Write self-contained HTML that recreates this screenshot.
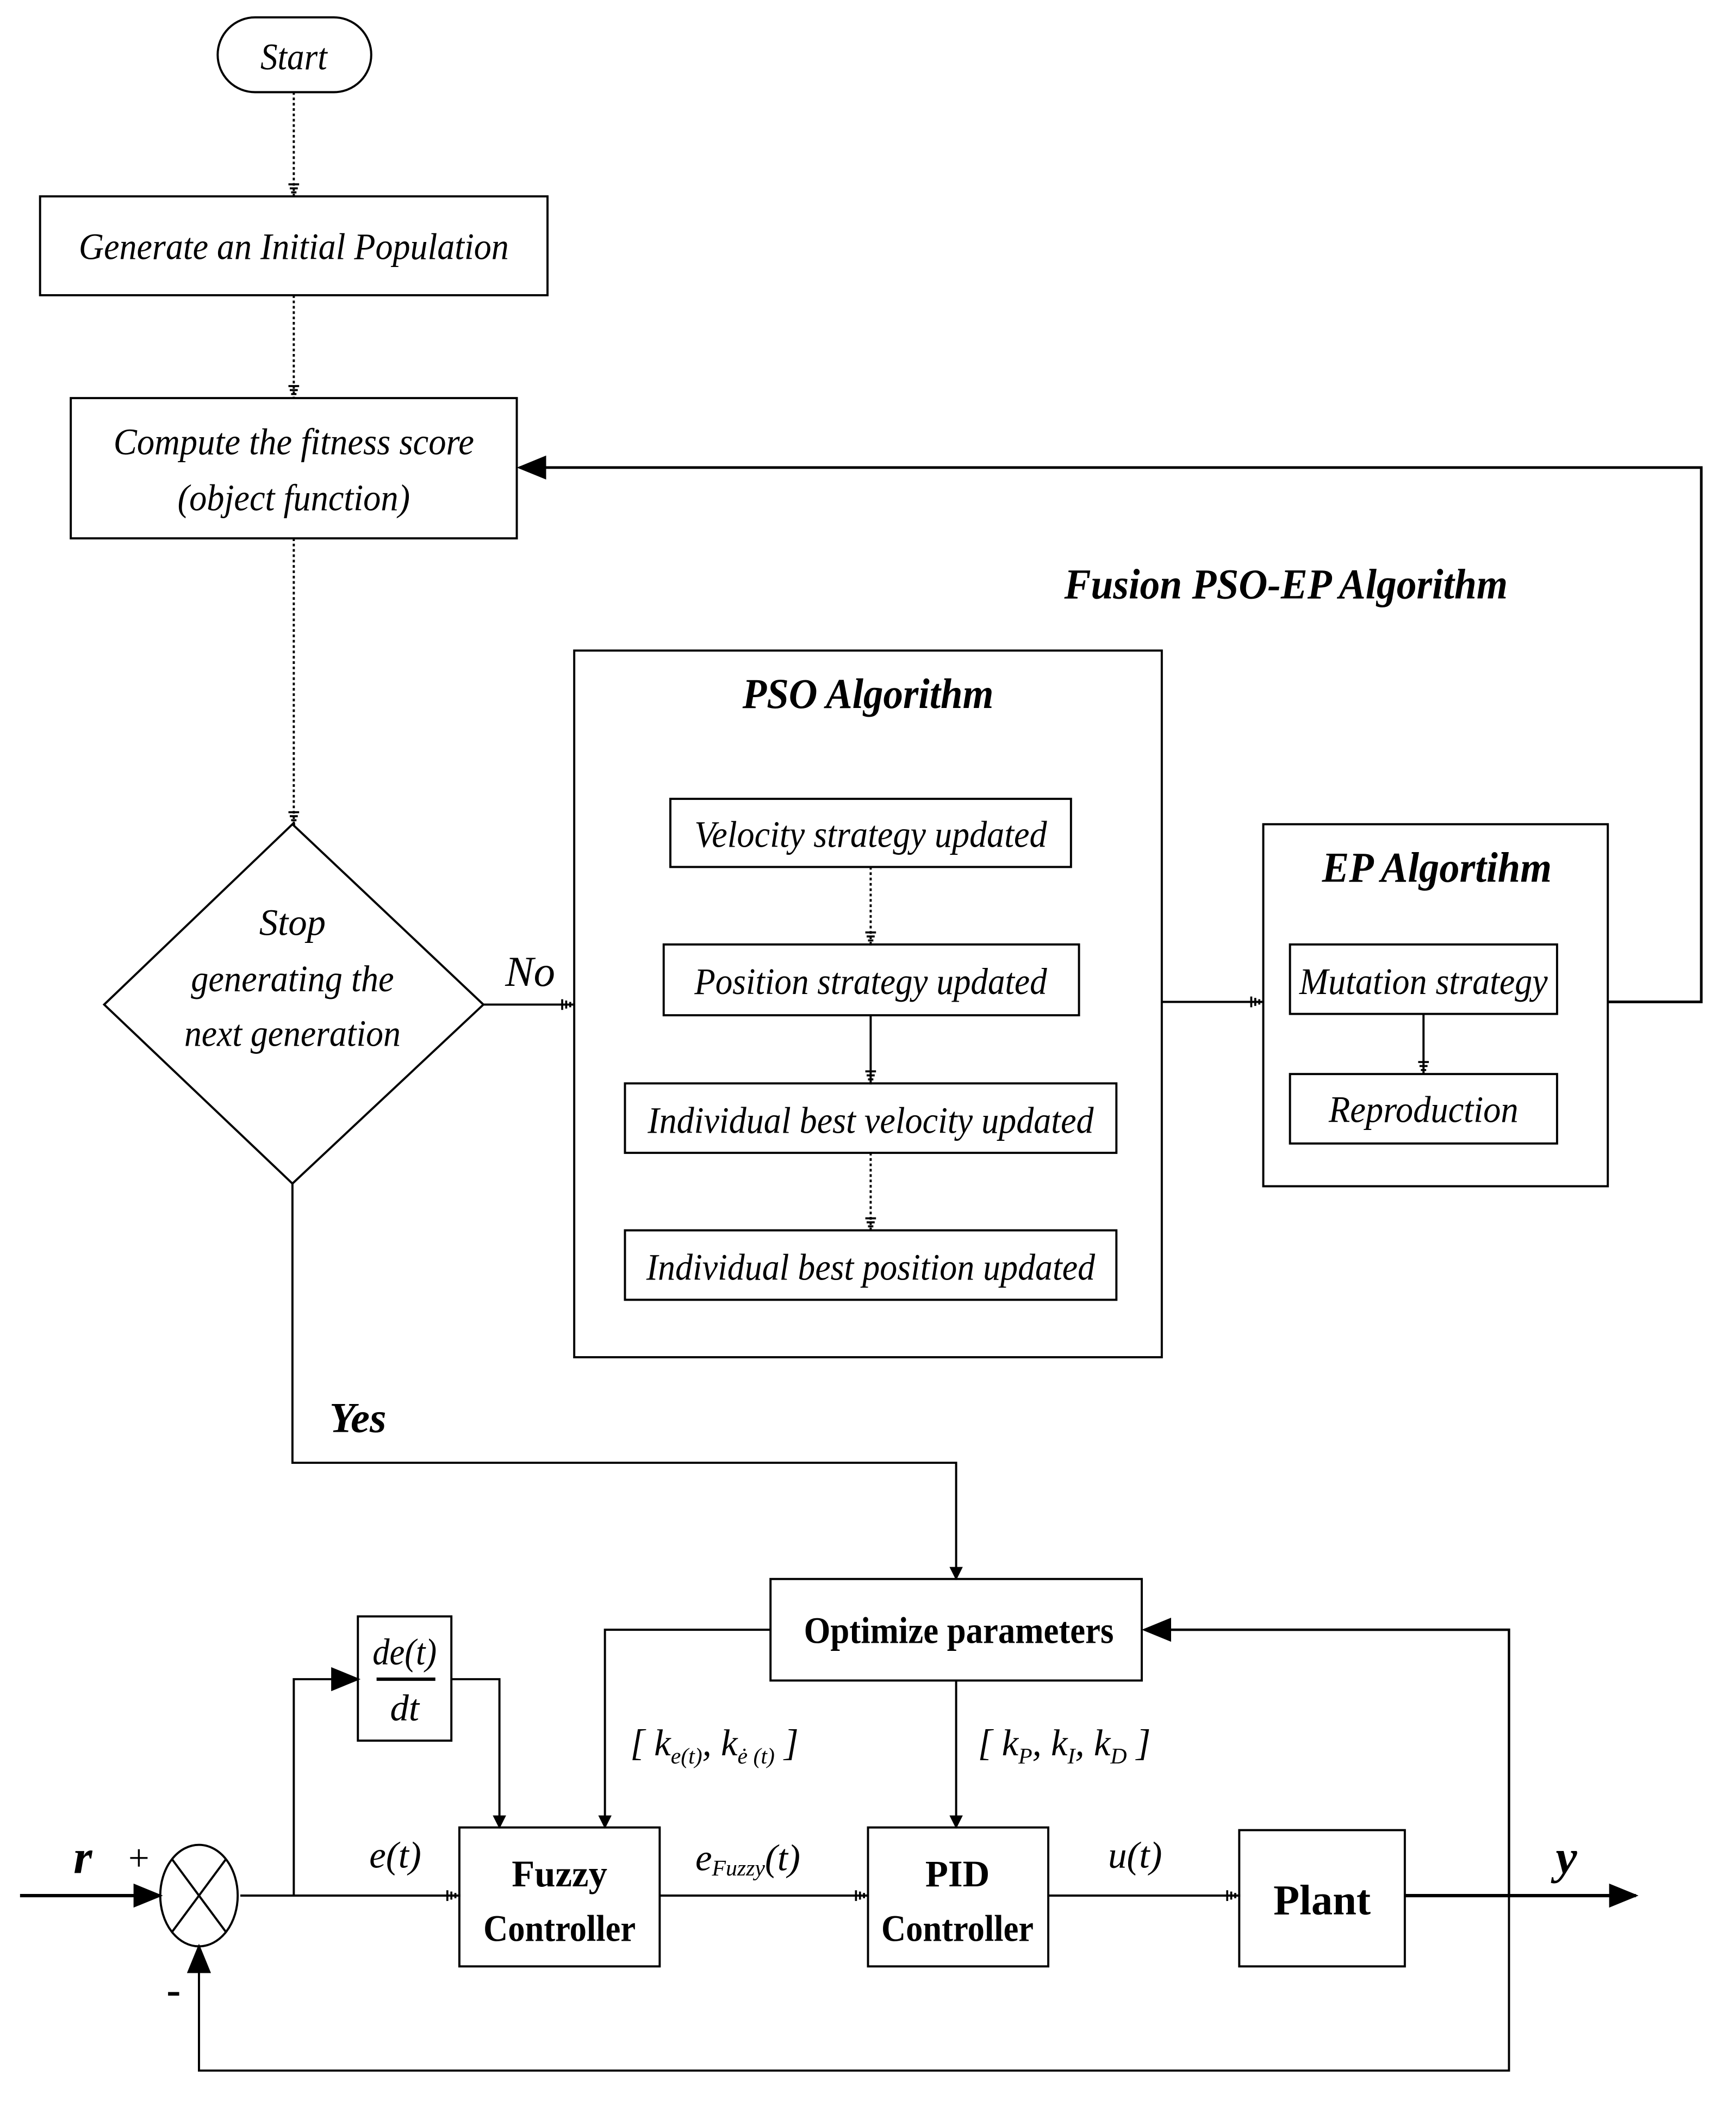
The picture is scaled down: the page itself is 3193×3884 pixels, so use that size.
<!DOCTYPE html>
<html><head><meta charset="utf-8"><style>html,body{margin:0;padding:0;background:#fff}svg{display:block}</style></head>
<body>
<svg width="3193" height="3884" viewBox="0 0 1300 1581" preserveAspectRatio="none" xmlns="http://www.w3.org/2000/svg" font-family="Liberation Serif, serif">
<defs>
<marker id="a" markerWidth="10" markerHeight="10" refX="9" refY="5" orient="auto" markerUnits="userSpaceOnUse" viewBox="0 0 10 10"><path d="M0,0 L10,5 L0,10 z" fill="#000"/></marker>
<marker id="b" markerWidth="22" markerHeight="18" refX="20" refY="9" orient="auto" markerUnits="userSpaceOnUse" viewBox="0 0 22 18"><path d="M0,0 L22,9 L0,18 z" fill="#000"/></marker>
<marker id="d" markerWidth="12" markerHeight="10" refX="11" refY="5" orient="auto" markerUnits="userSpaceOnUse" viewBox="0 0 12 10"><path d="M2,1 V9 M5,2 V8 M8,3 V7 M11,4 V6" stroke="#000" stroke-width="1.5"/></marker>
</defs>
<g fill="none" stroke="#000" stroke-width="1.6">
<rect x="163" y="13" width="115" height="56" rx="28"/>
<rect x="30" y="147" width="380" height="74"/>
<rect x="53" y="298" width="334" height="105"/>
<path d="M219,617 L362,752 L219,886 L78,752 Z"/>
<rect x="430" y="487" width="440" height="529"/>
<rect x="502" y="598" width="300" height="51"/>
<rect x="497" y="707" width="311" height="53"/>
<rect x="468" y="811" width="368" height="52"/>
<rect x="468" y="921" width="368" height="52"/>
<rect x="946" y="617" width="258" height="271"/>
<rect x="966" y="707" width="200" height="52"/>
<rect x="966" y="804" width="200" height="52"/>
<rect x="577" y="1182" width="278" height="76"/>
<rect x="268" y="1210" width="70" height="93"/>
<ellipse cx="149" cy="1419" rx="29" ry="38"/>
<path d="M129,1392 L169,1446 M169,1392 L129,1446"/>
<rect x="344" y="1368" width="150" height="104"/>
<rect x="650" y="1368" width="135" height="104"/>
<rect x="928" y="1370" width="124" height="102"/>
<g stroke-dasharray="2,2">
<path d="M220,69 V147" marker-end="url(#d)"/>
<path d="M220,221 V298" marker-end="url(#d)"/>
<path d="M220,403 V617" marker-end="url(#d)"/>
<path d="M652,649 V707" marker-end="url(#d)"/>
<path d="M652,863 V921" marker-end="url(#d)"/>
</g>
<path d="M652,760 V811" marker-end="url(#d)"/>
<path d="M1066,759 V804" marker-end="url(#d)"/>
<path d="M362,752 H430" marker-end="url(#d)"/>
<path d="M870,750 H946" marker-end="url(#d)"/>
<path d="M1204,750 H1274 V350 H389" stroke-width="2" marker-end="url(#b)"/>
<path d="M219,886 V1095 H716 V1182" marker-end="url(#a)"/>
<path d="M577,1220 H453 V1368" marker-end="url(#a)"/>
<path d="M716,1258 V1368" marker-end="url(#a)"/>
<path d="M1052,1419 H1130 V1220 H857" stroke-width="1.8" marker-end="url(#b)"/>
<path d="M180,1419 H220 V1257 H268" marker-end="url(#b)"/>
<path d="M338,1257 H374 V1368" marker-end="url(#a)"/>
<path d="M180,1419 H344" marker-end="url(#d)"/>
<path d="M494,1419 H650" marker-end="url(#d)"/>
<path d="M785,1419 H928" marker-end="url(#d)"/>
<path d="M1052,1419 H1225" stroke-width="2.5" marker-end="url(#b)"/>
<path d="M15,1419 H120" stroke-width="2.5" marker-end="url(#b)"/>
<path d="M1130,1419 V1550 H149 V1457" marker-end="url(#b)"/>
<path d="M282,1257 H326" stroke-width="2.5"/>
</g>
<g font-style="italic" text-anchor="middle" font-size="28" fill="#000">
<text x="220" y="52" textLength="50" lengthAdjust="spacingAndGlyphs">Start</text>
<text x="220" y="194" textLength="322" lengthAdjust="spacingAndGlyphs">Generate an Initial Population</text>
<text x="220" y="340" textLength="270" lengthAdjust="spacingAndGlyphs">Compute the fitness score</text>
<text x="220" y="382" textLength="174" lengthAdjust="spacingAndGlyphs">(object function)</text>
<text x="219" y="700">Stop</text>
<text x="219" y="742" textLength="152" lengthAdjust="spacingAndGlyphs">generating the</text>
<text x="219" y="783" textLength="162" lengthAdjust="spacingAndGlyphs">next generation</text>
<text x="397" y="738" font-size="32">No</text>
<text x="268" y="1072" font-size="32" font-weight="bold">Yes</text>
<text x="963" y="448" font-size="32" font-weight="bold" textLength="332" lengthAdjust="spacingAndGlyphs">Fusion PSO-EP Algorithm</text>
<text x="650" y="530" font-size="32" font-weight="bold" textLength="188" lengthAdjust="spacingAndGlyphs">PSO Algorithm</text>
<text x="652" y="634" textLength="264" lengthAdjust="spacingAndGlyphs">Velocity strategy updated</text>
<text x="652" y="744" textLength="264" lengthAdjust="spacingAndGlyphs">Position strategy updated</text>
<text x="652" y="848" textLength="334" lengthAdjust="spacingAndGlyphs">Individual best velocity updated</text>
<text x="652" y="958" textLength="336" lengthAdjust="spacingAndGlyphs">Individual best position updated</text>
<text x="1076" y="660" font-size="32" font-weight="bold" textLength="172" lengthAdjust="spacingAndGlyphs">EP Algortihm</text>
<text x="1066" y="744" textLength="186" lengthAdjust="spacingAndGlyphs">Mutation strategy</text>
<text x="1066" y="840" textLength="142" lengthAdjust="spacingAndGlyphs">Reproduction</text>
<text x="303" y="1246" textLength="48" lengthAdjust="spacingAndGlyphs">de(t)</text>
<text x="303" y="1288">dt</text>
<text x="296" y="1398">e(t)</text>
<text x="560" y="1400">e<tspan font-size="17" dy="4">Fuzzy</tspan><tspan dy="-4">(t)</tspan></text>
<text x="850" y="1398">u(t)</text>
<text x="535" y="1314">[ k<tspan font-size="17" dy="6">e(t)</tspan><tspan dy="-6">, k</tspan><tspan font-size="17" dy="6">ė (t)</tspan><tspan dy="-6"> ]</tspan></text>
<text x="797" y="1314">[ k<tspan font-size="17" dy="6">P</tspan><tspan dy="-6">, k</tspan><tspan font-size="17" dy="6">I</tspan><tspan dy="-6">, k</tspan><tspan font-size="17" dy="6">D</tspan><tspan dy="-6"> ]</tspan></text>
<text x="62" y="1402" font-size="36" font-weight="bold">r</text>
<text x="1173" y="1402" font-size="36" font-weight="bold">y</text>
</g>
<g text-anchor="middle" font-weight="bold" font-size="28" fill="#000">
<text x="718" y="1230" textLength="232" lengthAdjust="spacingAndGlyphs">Optimize parameters</text>
<text x="419" y="1412">Fuzzy</text>
<text x="419" y="1453" textLength="114" lengthAdjust="spacingAndGlyphs">Controller</text>
<text x="717" y="1412">PID</text>
<text x="717" y="1453" textLength="114" lengthAdjust="spacingAndGlyphs">Controller</text>
<text x="990" y="1433" font-size="32">Plant</text>
<text x="104" y="1400" font-weight="normal">+</text>
<text x="130" y="1500" font-size="32">-</text>
</g>
</svg>
</body></html>
